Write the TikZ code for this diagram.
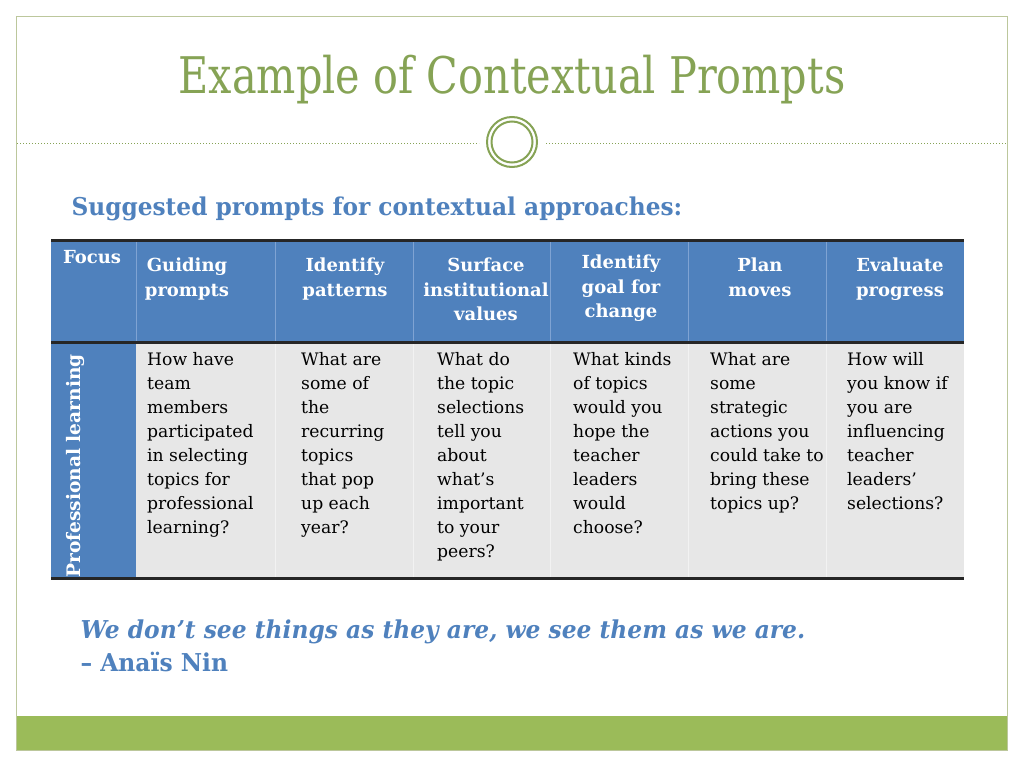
\documentclass[tikz,border=0pt]{standalone}
\usepackage{fontspec}
\setmainfont{DejaVu Serif}
\newfontfamily\condfont[FakeStretch=0.82]{DejaVu Serif}
\newfontfamily\subfont[FakeStretch=0.95]{DejaVu Serif}
\usepackage{tikz}
\usepackage{xcolor}
\definecolor{framegreen}{HTML}{BCC79C}
\definecolor{bargreen}{HTML}{9BBB59}
\definecolor{titlegreen}{HTML}{86A355}
\definecolor{headblue}{HTML}{4F81BD}
\definecolor{lineblue}{HTML}{7FA3D3}
\definecolor{cellgray}{HTML}{E7E7E7}
\usetikzlibrary{positioning}

\begin{document}
\begin{tikzpicture}[x=1pt, y=-1pt,
    headtext/.style={text=white, font=\fontsize{18}{24.5}\selectfont\bfseries, align=center, anchor=north, inner sep=0},
    celltext/.style={text=black, font=\fontsize{17.2}{24}\selectfont, align=left, anchor=north west, inner sep=0},
    rule/.style={line width=3pt, black!85}]
\useasboundingbox (0,0) rectangle (1024,768);

% frame
\fill[bargreen] (17,716) rectangle (1007,750);
\draw[framegreen, line width=1.2pt] (16.5,16.5) rectangle (1007.5,750.5);

\node[text=titlegreen, font=\condfont\fontsize{50.5}{50}\selectfont] (title) at (512,80) {Example of Contextual Prompts};

\draw[titlegreen, dotted, line width=1pt] (17,143) -- (479,143);
\draw[titlegreen, dotted, line width=1pt] (546,143) -- (1007,143);
\node[circle, draw=titlegreen, line width=2pt, minimum size=50pt] (ring) at (512,142) {};
\node[circle, draw=titlegreen, line width=2pt, minimum size=41pt] (ringin) at (512,142) {};

\node[anchor=west, text=headblue, font=\subfont\fontsize{24.5}{24}\selectfont\bfseries] (sub) at (68,209) {Suggested prompts for contextual approaches:};

% table
\fill[headblue] (51,240) rectangle (964,342);
\fill[cellgray] (136,342) rectangle (964,578);
\fill[headblue] (51,342) rectangle (136,578);
\foreach \x in {136, 275, 413, 550, 688, 826}
    \draw[lineblue, line width=0.8pt] (\x,240) -- (\x,342);
\foreach \x in {275, 413, 550, 688, 826}
    \draw[white!90!gray, line width=0.8pt] (\x,342) -- (\x,578);
\draw[rule] (51,240) -- (964,240);
\draw[rule] (51,342) -- (964,342);
\draw[rule] (51,578) -- (964,578);

\node[headtext] (focus) at (92,250) {Focus};
\node[headtext] (guide) at (187,258) {Guiding\\prompts};
\node[headtext] (pattern) at (345,258) {Identify\\patterns};
\node[headtext] (surface) at (486,258) {Surface\\institutional\\values};
\node[headtext] (goal) at (621,255) {Identify\\goal for\\change};
\node[headtext] (plan) at (760,258) {Plan\\moves};
\node[headtext] (evaluate) at (900,258) {Evaluate\\progress};

\node[text=white, font=\fontsize{18.6}{18}\selectfont\bfseries, rotate=90] (prof) at (75,466) {Professional learning};

\node[celltext] (c1) at (147,352) {How have\\team\\members\\participated\\in selecting\\topics for\\professional\\learning?};
\node[celltext] (c2) at (301,352) {What are\\some of\\the\\recurring\\topics\\that pop\\up each\\year?};
\node[celltext] (c3) at (437,352) {What do\\the topic\\selections\\tell you\\about\\what’s\\important\\to your\\peers?};
\node[celltext] (c4) at (573,352) {What kinds\\of topics\\would you\\hope the\\teacher\\leaders\\would\\choose?};
\node[celltext] (c5) at (710,352) {What are\\some\\strategic\\actions you\\could take to\\bring these\\topics up?};
\node[celltext] (c6) at (847,352) {How will\\you know if\\you are\\influencing\\teacher\\leaders’\\selections?};

\node[anchor=west, text=headblue, font=\subfont\fontsize{24.6}{24}\selectfont\bfseries\itshape] (quote) at (77,632) {We don’t see things as they are, we see them as we are.};
\node[anchor=west, text=headblue, font=\subfont\fontsize{24.6}{24}\selectfont\bfseries] (nin) at (77,662) {– Anaïs Nin};

\end{tikzpicture}
\end{document}
